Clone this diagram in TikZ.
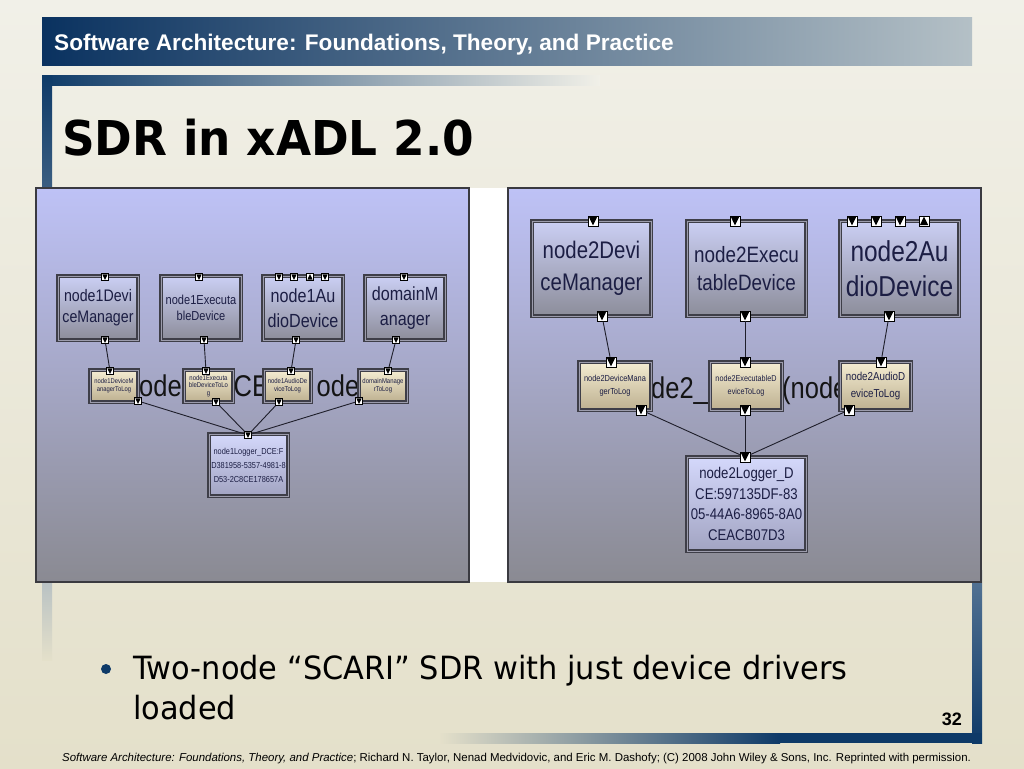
\documentclass[tikz,border=0pt]{standalone}
\usepackage{fontspec}
\setmainfont{Liberation Sans}
\newfontfamily\cf[FakeStretch=0.85]{Liberation Sans}
\newfontfamily\titlef[FakeStretch=0.945]{DejaVu Sans}
\newfontfamily\bodyf[FakeStretch=0.95]{DejaVu Sans}
\definecolor{bgt}{HTML}{F1F0E8}
\definecolor{bgb}{HTML}{E4E0CA}
\definecolor{hdl}{HTML}{0A3260}
\definecolor{hdr}{HTML}{B4C0C6}
\definecolor{dkb}{HTML}{0E3A68}
\definecolor{pant}{HTML}{BEC2F6}
\definecolor{panb}{HTML}{8A8A92}
\definecolor{panline}{HTML}{3A3A40}
\definecolor{compbd}{HTML}{3E3E48}
\definecolor{compdb}{HTML}{9C9CAC}
\definecolor{compt}{HTML}{CBCFF4}
\definecolor{compbt}{HTML}{8C8D9A}
\definecolor{connt}{HTML}{F4ECD2}
\definecolor{connb}{HTML}{BDB090}
\definecolor{logt}{HTML}{D4D8FB}
\definecolor{logb}{HTML}{A2A4C2}
\definecolor{txtc}{HTML}{1C1E44}
\definecolor{linkc}{HTML}{1E1E2A}
\tikzset{
  boxbase/.style={draw=compbd, double=compdb, double distance=1pt, line width=1.1pt,
    inner sep=0pt, align=center, text=txtc},
  comp/.style={boxbase, top color=compt, bottom color=compbt},
  conn/.style={boxbase, top color=connt, bottom color=connb},
  logg/.style={boxbase, top color=logt, bottom color=logb},
  pd/.style={draw=black, fill=white, line width=0.6pt, inner sep=0pt, minimum size=#1,
    path picture={\fill[black] ([xshift=0.8pt,yshift=-0.8pt]path picture bounding box.north west)
      -- ([xshift=-0.8pt,yshift=-0.8pt]path picture bounding box.north east)
      -- ([yshift=0.6pt]path picture bounding box.south) -- cycle;}},
  pd/.default=7pt,
  pu/.style={draw=black, fill=white, line width=0.6pt, inner sep=0pt, minimum size=#1,
    path picture={\fill[black] ([xshift=0.8pt,yshift=0.8pt]path picture bounding box.south west)
      -- ([xshift=-0.8pt,yshift=0.8pt]path picture bounding box.south east)
      -- ([yshift=-0.6pt]path picture bounding box.north) -- cycle;}},
  pu/.default=7pt,
  lnk/.style={draw=linkc, line width=0.9pt},
  bigt/.style={font=\cf\fontsize{30}{30}\selectfont, text=black!92, inner sep=0pt, anchor=base west},
}
\begin{document}
\begin{tikzpicture}[x=1pt,y=-1pt]
\useasboundingbox (0,0) rectangle (1024,768);
% slide background
\shade[top color=bgt, bottom color=bgb] (0,0) rectangle (1024,768);
% header bar
\shade[left color=hdl, right color=hdr] (42,18) rectangle (972,65);
\node[anchor=base west, text=white, inner sep=0pt, font=\fontsize{22.6}{26}\selectfont\bfseries] (hdr) at (54,50)
  {Software Architecture: Foundations, Theory, and Practice};
% title frame
\shade[left color=dkb, right color=bgt] (42,75) rectangle (600,85);
\shade[top color=dkb, bottom color=dkb!80!bgt] (42,75) rectangle (52,190);
\shade[top color=dkb!30!bgt, bottom color=bgb] (42,560) rectangle (52,660);
\node[anchor=base west, inner sep=0pt, font=\titlef\fontsize{48}{52}\selectfont\bfseries] (title) at (62,155) {SDR in xADL 2.0};
% bottom-right frame
\shade[top color=dkb!70!white, bottom color=dkb] (972,570) rectangle (982,743);
\shade[left color=bgb, right color=dkb] (440,733) rectangle (780,743);
\fill[dkb] (780,733) rectangle (982,743);
% panels
\fill[white] (469,188) rectangle (508,582);
\shade[top color=pant, bottom color=panb] (36,188) rectangle (469,582);
\draw[panline, line width=1.6pt] (36,188) rectangle (469,582);
\shade[top color=pant, bottom color=panb] (508,188) rectangle (981,582);
\draw[panline, line width=1.6pt] (508,188) rectangle (981,582);

% ---------- left panel ----------
\node[bigt] (lbA) at (139,396) {ode};
\begin{scope}
  \clip (233,360) rectangle (264,410);
  \node[bigt] (lbB) at (233.5,396) {CE};
\end{scope}
\node[bigt] (lbC) at (316.5,396) {ode};

\node[comp, minimum width=80pt, minimum height=64pt, font=\cf\fontsize{16.7}{21}\selectfont] (lc1) at (98,308) {node1Devi\\ceManager};
\node[comp, minimum width=80pt, minimum height=64pt, font=\cf\fontsize{13}{16.5}\selectfont] (lc2) at (201,308) {node1Executa\\bleDevice};
\node[comp, minimum width=80pt, minimum height=64pt, font=\cf\fontsize{19}{25}\selectfont] (lc3) at (303,308) {node1Au\\dioDevice};
\node[comp, minimum width=80pt, minimum height=64pt, font=\cf\fontsize{19}{25}\selectfont] (lc4) at (405,308) {domainM\\anager};

\node[conn, minimum width=48pt, minimum height=32pt, font=\cf\fontsize{6.9}{8}\selectfont] (lk1) at (114,386) {node1DeviceM\\anagerToLog};
\node[conn, minimum width=49pt, minimum height=32pt, font=\cf\fontsize{7}{7.5}\selectfont] (lk2) at (208.5,386) {node1Executa\\bleDeviceToLo\\g};
\node[conn, minimum width=47pt, minimum height=32pt, font=\cf\fontsize{7}{8}\selectfont] (lk3) at (287.5,386) {node1AudioDe\\viceToLog};
\node[conn, minimum width=48pt, minimum height=32pt, font=\cf\fontsize{7}{8}\selectfont] (lk4) at (383,386) {domainManage\\rToLog};

\node[logg, minimum width=79pt, minimum height=62pt, font=\cf\fontsize{8.7}{14}\selectfont] (llog) at (248.5,465)
  {node1Logger\_DCE:F\\D381958-5357-4981-8\\D53-2C8CE178657A};

% left ports
\node[pd] (lc1t) at (105,277) {};
\node[pd] (lc1b) at (105,340) {};
\node[pd] (lc2t) at (199,277) {};
\node[pd] (lc2b) at (204,340) {};
\node[pd] (lc3t1) at (279,277) {};
\node[pd] (lc3t2) at (294,277) {};
\node[pu] (lc3t3) at (310,277) {};
\node[pd] (lc3t4) at (325,277) {};
\node[pd] (lc3b) at (296,340) {};
\node[pd] (lc4t) at (404,277) {};
\node[pd] (lc4b) at (396,340) {};
\node[pd] (lk1t) at (110,371) {};
\node[pd] (lk1b) at (138,401) {};
\node[pd] (lk2t) at (206,371) {};
\node[pd] (lk2b) at (216,402) {};
\node[pd] (lk3t) at (291,371) {};
\node[pd] (lk3b) at (279,402) {};
\node[pd] (lk4t) at (388,371) {};
\node[pd] (lk4b) at (359,401) {};
\node[pd] (llogt) at (248,435) {};

% left links
\draw[lnk] (lc1b) -- (lk1t);
\draw[lnk] (lc2b) -- (lk2t);
\draw[lnk] (lc3b) -- (lk3t);
\draw[lnk] (lc4b) -- (lk4t);
\draw[lnk] (lk1b) -- (llogt);
\draw[lnk] (lk2b) -- (llogt);
\draw[lnk] (lk3b) -- (llogt);
\draw[lnk] (lk4b) -- (llogt);

% ---------- right panel ----------
\node[bigt] (rbA) at (651,398) {de2\_};
\begin{scope}
  \clip (782,360) rectangle (840,412);
  \node[bigt] (rbB) at (782,398) {(node};
\end{scope}

\node[comp, minimum width=119pt, minimum height=95pt, font=\cf\fontsize{24}{32}\selectfont] (rc1) at (591.5,268.5) {node2Devi\\ceManager};
\node[comp, minimum width=119pt, minimum height=95pt, font=\cf\fontsize{22.2}{28}\selectfont] (rc2) at (746.5,268.5) {node2Execu\\tableDevice};
\node[comp, minimum width=119pt, minimum height=95pt, font=\cf\fontsize{28.8}{35}\selectfont] (rc3) at (899.5,268.5) {node2Au\\dioDevice};

\node[conn, minimum width=72pt, minimum height=48pt, font=\cf\fontsize{8.75}{13}\selectfont] (rk1) at (615,386) {node2DeviceMana\\gerToLog};
\node[conn, minimum width=72pt, minimum height=48pt, font=\cf\fontsize{8.5}{13}\selectfont] (rk2) at (746,386) {node2ExecutableD\\eviceToLog};
\node[conn, minimum width=71pt, minimum height=48pt, font=\cf\fontsize{11.5}{17}\selectfont] (rk3) at (875.5,386) {node2AudioD\\eviceToLog};

\node[logg, minimum width=119pt, minimum height=94pt, font=\cf\fontsize{15.5}{20.7}\selectfont] (rlog) at (746.5,504)
  {node2Logger\_D\\CE:597135DF-83\\05-44A6-8965-8A0\\CEACB07D3};

% right ports
\node[pd=10pt] (rc1t) at (593,221) {};
\node[pd=10pt] (rc1b) at (602,316) {};
\node[pd=10pt] (rc2t) at (735,221) {};
\node[pd=10pt] (rc2b) at (745,316) {};
\node[pd=10pt] (rc3t1) at (852,221) {};
\node[pd=10pt] (rc3t2) at (876,221) {};
\node[pd=10pt] (rc3t3) at (900,221) {};
\node[pu=10pt] (rc3t4) at (924,221) {};
\node[pd=10pt] (rc3b) at (889,316) {};
\node[pd=10pt] (rk1t) at (611,362) {};
\node[pd=10pt] (rk1b) at (641,410) {};
\node[pd=10pt] (rk2t) at (745,362) {};
\node[pd=10pt] (rk2b) at (745,410) {};
\node[pd=10pt] (rk3t) at (881,362) {};
\node[pd=10pt] (rk3b) at (849,410) {};
\node[pd=10pt] (rlogt) at (745,457) {};

% right links
\draw[lnk] (rc1b) -- (rk1t);
\draw[lnk] (rc2b) -- (rk2t);
\draw[lnk] (rc3b) -- (rk3t);
\draw[lnk] (rk1b) -- (rlogt);
\draw[lnk] (rk2b) -- (rlogt);
\draw[lnk] (rk3b) -- (rlogt);

% ---------- bullet text ----------
\fill[dkb] (106,669) circle (5);
\node[anchor=base west, inner sep=0pt, font=\bodyf\fontsize{32}{40}\selectfont] (b1) at (133,679.5)
  {Two-node “SCARI” SDR with just device drivers};
\node[anchor=base west, inner sep=0pt, font=\bodyf\fontsize{32}{40}\selectfont] (b2) at (133,719.5) {loaded};
\node[anchor=base east, inner sep=0pt, font=\fontsize{18}{20}\selectfont\bfseries] (pg) at (962,725) {32};
% footer
\node[anchor=base west, inner sep=0pt, font=\fontsize{11.45}{13}\selectfont] (foot) at (62,761)
  {\itshape Software Architecture: Foundations, Theory, and Practice\upshape; Richard N. Taylor, Nenad Medvidovic, and Eric M. Dashofy; (C) 2008 John Wiley \& Sons, Inc. Reprinted with permission.};
\end{tikzpicture}
\end{document}
